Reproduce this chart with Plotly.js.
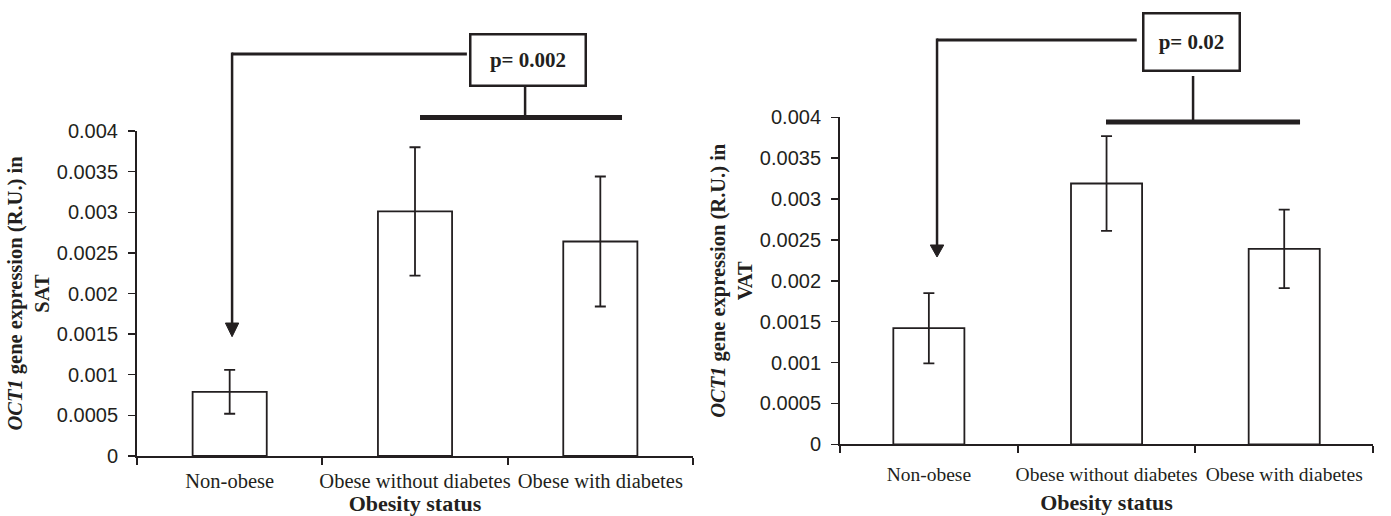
<!DOCTYPE html>
<html><head><meta charset="utf-8">
<script src="https://cdn.plot.ly/plotly-3.0.1.min.js"></script>
<style>html,body{margin:0;padding:0;background:#fff}#chart{width:1391px;height:516px}</style>
</head><body><div id="chart"></div>
<script>
const categories = ["Non-obese", "Obese without diabetes", "Obese with diabetes"];
const satMeans = [0.00079, 0.00301, 0.00264];
const satErrors = [0.00027, 0.00079, 0.0008];
const vatMeans = [0.00142, 0.00319, 0.00239];
const vatErrors = [0.00043, 0.00058, 0.00048];
const yTickVals = [0, 0.0005, 0.001, 0.0015, 0.002, 0.0025, 0.003, 0.0035, 0.004];
const yTickText = ["0", "0.0005", "0.001", "0.0015", "0.002", "0.0025", "0.003", "0.0035", "0.004"];
const pLabels = ["p= 0.002", "p= 0.02"];
const tissues = ["SAT", "VAT"];
const xTitle = "Obesity status";

const ink = '#231f20';
const serif = 'Liberation Serif, Times New Roman, serif';
const sans = 'Liberation Sans, Arial, sans-serif';

function barTrace(means, errs, xa, ya) {
  return {
    type: 'bar', x: categories, y: means, xaxis: xa, yaxis: ya, width: 0.4,
    marker: {color: '#ffffff', line: {color: ink, width: 1.8}},
    error_y: {type: 'data', array: errs, visible: true, color: ink, thickness: 1.8, width: 5.5},
    hoverinfo: 'x+y'
  };
}

function xAxis(domain, anchor, standoff, labelOff, labelSize) {
  return {
    domain: domain, anchor: anchor, type: 'category', range: [-0.5, 2.5],
    showline: true, linecolor: ink, linewidth: 2, ticks: 'outside', tickson: 'boundaries',
    ticklen: 7, tickwidth: 2, tickcolor: ink, showgrid: false, zeroline: false, tickangle: 0,
    tickfont: {family: serif, size: labelSize, color: ink}, ticklabelstandoff: labelOff,
    title: {text: '<b>' + xTitle + '</b>', font: {family: serif, size: 22, color: ink}, standoff: standoff}
  };
}
function yAxis(domain, anchor, tissue) {
  return {
    domain: domain, anchor: anchor, range: [0, 0.004], tickvals: yTickVals, ticktext: yTickText,
    showline: true, linecolor: ink, linewidth: 2, ticks: 'outside', ticklen: 7, tickwidth: 1.5,
    tickcolor: ink, showgrid: false, zeroline: false, ticklabelstandoff: 6,
    tickfont: {family: sans, size: 20, color: ink},
    title: {text: '<b><i>OCT1</i> gene expression (R.U.) in<br>' + tissue + '</b>',
            font: {family: serif, size: 20.5, color: ink}, standoff: 2}
  };
}

// bracket geometry (x in category index, y in paper)
function decor(xr, g) {
  const shapes = [
    {type: 'line', xref: xr, yref: 'paper', x0: g.ax, x1: g.boxL, y0: g.hy, y1: g.hy, line: {color: ink, width: 3}},
    {type: 'line', xref: xr, yref: 'paper', x0: g.ax, x1: g.ax, y0: g.hy + 0.003, y1: g.tipBase, line: {color: ink, width: 2.5}},
    {type: 'path', xref: xr, yref: 'paper', fillcolor: ink, line: {color: ink, width: 1},
     path: 'M ' + (g.ax - g.hw) + ' ' + g.tipBase + ' L ' + (g.ax + g.hw) + ' ' + g.tipBase + ' L ' + g.ax + ' ' + g.tip + ' Z'},
    {type: 'line', xref: xr, yref: 'paper', x0: g.stem, x1: g.stem, y0: g.stemTop, y1: g.brY, line: {color: ink, width: 2.5}},
    {type: 'line', xref: xr, yref: 'paper', x0: g.brL, x1: g.brR, y0: g.brY, y1: g.brY, line: {color: ink, width: 5}}
  ];
  const ann = {xref: xr, yref: 'paper', x: g.boxX, y: g.boxY, text: '<b>' + g.label + '</b>', showarrow: false,
    font: {family: serif, size: 21, color: ink}, bordercolor: ink, borderwidth: 2.5, borderpad: 0,
    bgcolor: '#ffffff', width: g.bw, height: g.bh, xanchor: 'center', yanchor: 'middle', valign: 'middle'};
  return {shapes: shapes, ann: ann};
}

const left = decor('x', {ax: 0.013, boxL: 1.28, hy: 0.8953, tipBase: 0.3740, tip: 0.3475, hw: 0.036,
  stem: 1.594, stemTop: 0.8314, brY: 0.7723, brL: 1.027, brR: 2.117,
  boxX: 1.610, boxY: 0.8837, bw: 113, bh: 49, label: pLabels[0]});
const right = decor('x2', {ax: 0.046, boxL: 1.17, hy: 0.9225, tipBase: 0.5252, tip: 0.5019, hw: 0.038,
  stem: 1.487, stemTop: 0.8527, brY: 0.7636, brL: 0.997, brR: 2.089,
  boxX: 1.478, boxY: 0.9186, bw: 94, bh: 55, label: pLabels[1]});

const data = [barTrace(satMeans, satErrors, 'x', 'y'), barTrace(vatMeans, vatErrors, 'x2', 'y2')];
const layout = {
  width: 1391, height: 516, margin: {l: 0, r: 0, t: 0, b: 0},
  paper_bgcolor: '#ffffff', plot_bgcolor: '#ffffff', showlegend: false,
  xaxis: xAxis([0.0985, 0.4982], 'y', 12, 5, 20.5),
  yaxis: yAxis([0.1163, 0.7461], 'x', tissues[0]),
  xaxis2: xAxis([0.6039, 0.9871], 'y2', 11, 11, 19.5),
  yaxis2: yAxis([0.1390, 0.7727], 'x2', tissues[1]),
  shapes: left.shapes.concat(right.shapes),
  annotations: [left.ann, right.ann]
};
Plotly.newPlot('chart', data, layout, {displayModeBar: false, staticPlot: true});
</script></body></html>
